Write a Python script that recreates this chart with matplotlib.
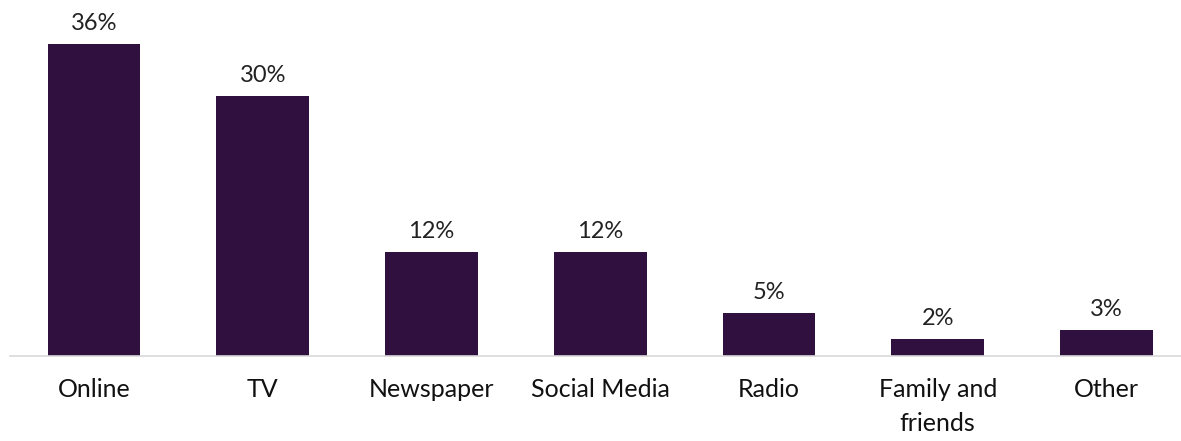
import matplotlib.pyplot as plt

categories = ["Online", "TV", "Newspaper", "Social Media", "Radio", "Family and\nfriends", "Other"]
values = [36, 30, 12, 12, 5, 2, 3]
labels = ["36%", "30%", "12%", "12%", "5%", "2%", "3%"]

bar_color = "#30103F"

plt.rcParams['font.family'] = ['Lato', 'DejaVu Sans']

fig = plt.figure(figsize=(11.81, 4.41), dpi=100)
ax = fig.add_axes([9.6 / 1181, 85 / 441, 1181.25 / 1181, 346.8 / 441])

x = range(len(categories))
bars = ax.bar(x, values, width=0.55, color=bar_color)

for b, lab in zip(bars, labels):
    ax.annotate(lab, (b.get_x() + b.get_width() / 2, b.get_height()),
                xytext=(0, 7), textcoords="offset points",
                ha="center", va="bottom", fontsize=17, color="#222222")

ax.set_xlim(-0.5, len(categories) - 0.5)
ax.set_ylim(0, 40)
ax.set_xticks(list(x))
ax.set_xticklabels(categories, fontsize=18, color="#111111", linespacing=1.55)
ax.tick_params(axis="x", length=0, pad=16)
ax.set_yticks([])

for side in ["top", "left", "right"]:
    ax.spines[side].set_visible(False)
ax.spines["bottom"].set_color("#D9D9D9")
ax.spines["bottom"].set_linewidth(1.2)

fig.savefig("out.png", dpi=100)
